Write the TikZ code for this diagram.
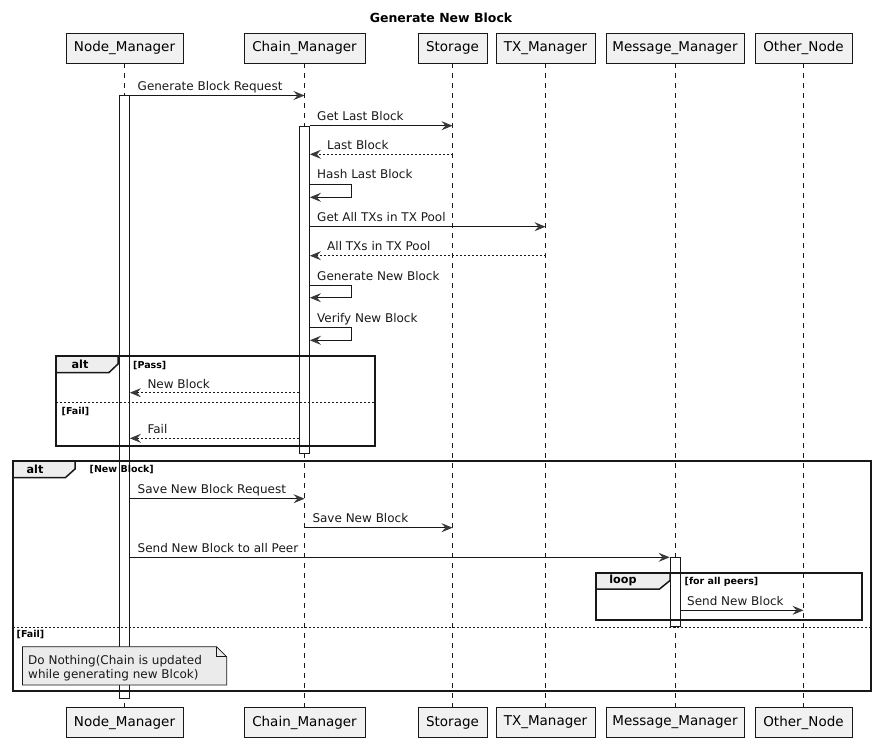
\documentclass[tikz,border=0pt]{standalone}
\usepackage{fontspec}
\setmainfont{DejaVu Sans}
\usetikzlibrary{arrows.meta}
\definecolor{ln}{HTML}{181818}
\definecolor{arr}{HTML}{383838}
\definecolor{pbg}{HTML}{F1F1F1}
\definecolor{tabbg}{HTML}{EEEEEE}
\definecolor{notebg}{HTML}{EBEBEB}
\definecolor{txt}{HTML}{1A1A1A}
\begin{document}
\begin{tikzpicture}[x=1pt,y=-1pt,
  part/.style={draw=ln, line width=0.9pt, fill=pbg, minimum height=30pt, inner sep=0pt, font=\fontsize{13.5}{16}\selectfont},
  life/.style={draw=ln, line width=0.7pt, dash pattern=on 5pt off 5pt},
  actbox/.style={draw=ln, line width=0.8pt, fill=white, minimum width=10pt, inner sep=0pt, anchor=north},
  msg/.style={draw=ln, line width=0.8pt, -{Stealth[length=11pt,width=9pt,inset=4pt,color=arr]}},
  ret/.style={msg, dash pattern=on 2pt off 2pt},
  lbl/.style={font=\fontsize{12}{14}\selectfont, text=txt, inner sep=0pt, anchor=base west},
  frm/.style={draw=ln, line width=2pt},
  sep/.style={draw=ln, line width=0.8pt, dash pattern=on 2pt off 2pt},
  tabshape/.style={draw=ln, line width=1.5pt, fill=tabbg},
  tabtxt/.style={font=\bfseries\fontsize{11.2}{13}\selectfont, inner sep=0pt},
  guard/.style={font=\bfseries\fontsize{9.5}{11}\selectfont, inner sep=0pt, anchor=base west}
]
\useasboundingbox[fill=white] (0,0) rectangle (882,748);

\node[font=\bfseries\fontsize{12.5}{15}\selectfont, inner sep=0pt] (title) at (441,18) {Generate New Block};

% participants
\node[part, minimum width=117pt] (nmT) at (124.5,48) {Node\_Manager};
\node[part, minimum width=121pt] (cmT) at (304.5,48) {Chain\_Manager};
\node[part, minimum width=69pt] (stT) at (452.5,48) {Storage};
\node[part, minimum width=99pt] (txT) at (545.5,48) {TX\_Manager};
\node[part, minimum width=138pt] (mmT) at (675,48) {Message\_Manager};
\node[part, minimum width=97pt] (onT) at (803.5,48) {Other\_Node};

\node[part, minimum width=117pt] (nmB) at (124.5,722.5) {Node\_Manager};
\node[part, minimum width=121pt] (cmB) at (304.5,722.5) {Chain\_Manager};
\node[part, minimum width=69pt] (stB) at (452.5,722.5) {Storage};
\node[part, minimum width=99pt] (txB) at (545.5,722.5) {TX\_Manager};
\node[part, minimum width=138pt] (mmB) at (675,722.5) {Message\_Manager};
\node[part, minimum width=97pt] (onB) at (803.5,722.5) {Other\_Node};

% lifelines
\draw[life] (nmT.south) -- (nmB.north);
\draw[life] (cmT.south) -- (cmB.north);
\draw[life] (stT.south) -- (stB.north);
\draw[life] (txT.south) -- (txB.north);
\draw[life] (mmT.south) -- (mmB.north);
\draw[life] (onT.south) -- (onB.north);

% activations
\node[actbox, minimum height=603pt] (aNM) at (124.5,95) {};
\node[actbox, minimum height=327.5pt] (aCM) at (304.5,125.5) {};
\node[actbox, minimum height=69pt] (aMM) at (675,557.3) {};

% alt frame 1
\draw[frm] (56,356) rectangle (375,446);
\draw[tabshape] (56,356) -- (118,356) -- (118,364) -- (109,372.5) -- (56,372.5) -- cycle;
\node[tabtxt] (alt1) at (80,364) {alt};
\node[guard] (g1) at (133,368) {[Pass]};
\draw[sep] (56,402.7) -- (375,402.7);
\node[guard] (g2) at (61.5,414.5) {[Fail]};

% alt frame 2
\draw[frm] (13,461) rectangle (871,690.5);
\draw[tabshape] (13,461) -- (75,461) -- (75,469) -- (65.5,477.5) -- (13,477.5) -- cycle;
\node[tabtxt] (alt2) at (35,469) {alt};
\node[guard] (g3) at (89.5,472.5) {[New Block]};
\draw[sep] (13,627.3) -- (871,627.3);
\node[guard] (g4) at (16.5,637) {[Fail]};

% loop frame
\draw[frm] (596,573) rectangle (862,619.5);
\draw[tabshape] (596,573) -- (670,573) -- (670,580.5) -- (659.5,589) -- (596,589) -- cycle;
\node[tabtxt] (lp) at (623,580.5) {loop};
\node[guard] (g5) at (684.5,584.5) {[for all peers]};

% messages
\draw[msg] (aNM.east |- 0,95.5) -- (cmT.south |- 0,95.5);
\node[lbl] (t1) at (137.5,90.5) {Generate Block Request};

\draw[msg] (aCM.east |- 0,125.7) -- (stT.south |- 0,125.7);
\node[lbl] (t2) at (317,120.7) {Get Last Block};

\draw[ret] (stT.south |- 0,154.3) -- (aCM.east |- 0,154.3);
\node[lbl] (t3) at (327,149.5) {Last Block};

\draw[msg] (aCM.east |- 0,184.3) -- (351.5,184.3) -- (351.5,197.3) -- (aCM.east |- 0,197.3);
\node[lbl] (t4) at (317,178.5) {Hash Last Block};

\draw[msg] (aCM.east |- 0,226.7) -- (txT.south |- 0,226.7);
\node[lbl] (t5) at (317,221.7) {Get All TXs in TX Pool};

\draw[ret] (txT.south |- 0,255.7) -- (aCM.east |- 0,255.7);
\node[lbl] (t6) at (327,250.7) {All TXs in TX Pool};

\draw[msg] (aCM.east |- 0,285.7) -- (351.5,285.7) -- (351.5,297.7) -- (aCM.east |- 0,297.7);
\node[lbl] (t7) at (317,280) {Generate New Block};

\draw[msg] (aCM.east |- 0,327.7) -- (351.5,327.7) -- (351.5,340.3) -- (aCM.east |- 0,340.3);
\node[lbl] (t8) at (317,322) {Verify New Block};

\draw[ret] (aCM.west |- 0,392.7) -- (aNM.east |- 0,392.7);
\node[lbl] (t9) at (147.3,388) {New Block};

\draw[ret] (aCM.west |- 0,438.3) -- (aNM.east |- 0,438.3);
\node[lbl] (t10) at (147.3,433.5) {Fail};

\draw[msg] (aNM.east |- 0,498.7) -- (cmT.south |- 0,498.7);
\node[lbl] (t11) at (137.5,493.7) {Save New Block Request};

\draw[msg] (cmT.south |- 0,527.7) -- (stT.south |- 0,527.7);
\node[lbl] (t12) at (312.3,522.7) {Save New Block};

\draw[msg] (aNM.east |- 0,557.3) -- (aMM.west |- 0,557.3);
\node[lbl] (t13) at (137.5,552.3) {Send New Block to all Peer};

\draw[msg] (aMM.east |- 0,610.3) -- (onT.south |- 0,610.3);
\node[lbl] (t14) at (687,605.3) {Send New Block};

% note
\draw[draw=ln, line width=0.7pt, fill=notebg] (22.5,646.7) -- (216.7,646.7) -- (226.7,656.7) -- (226.7,685) -- (22.5,685) -- cycle;
\draw[draw=ln, line width=0.7pt] (216.7,646.7) -- (216.7,656.7) -- (226.7,656.7);
\node[lbl] (n1) at (28,664) {Do Nothing(Chain is updated};
\node[lbl] (n2) at (28,678) {while generating new Blcok)};
\end{tikzpicture}
\end{document}
